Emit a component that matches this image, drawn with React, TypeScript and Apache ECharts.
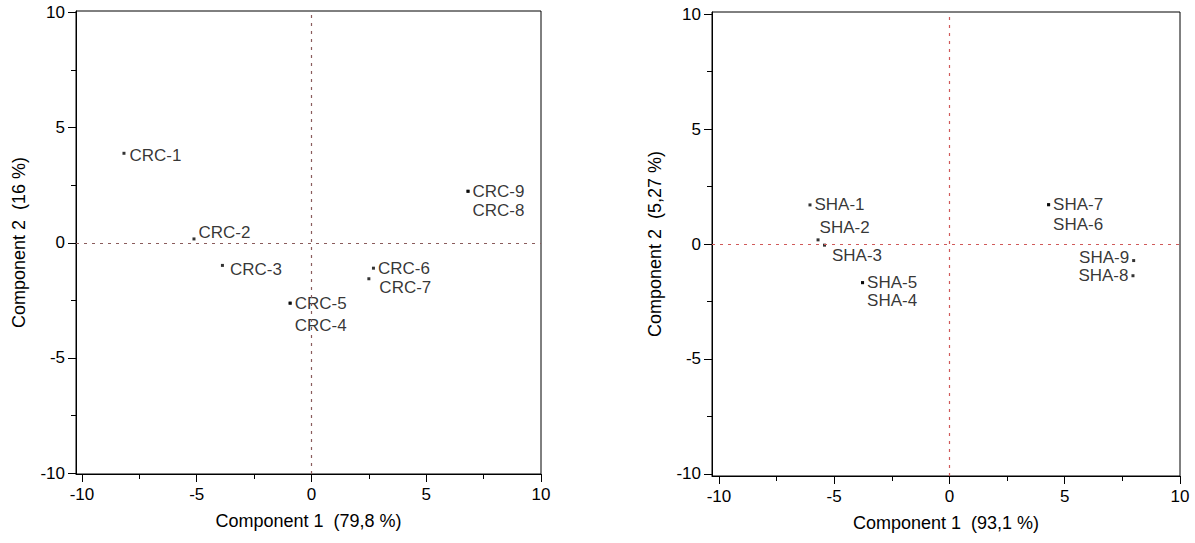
import React, { useEffect, useRef } from 'react';
import * as echarts from 'echarts';

// ---- Data ----
const crcNames = ['CRC-1', 'CRC-2', 'CRC-3', 'CRC-4', 'CRC-5', 'CRC-6', 'CRC-7', 'CRC-8', 'CRC-9'];
const crcX = [-8.17, -5.12, -3.88, -0.93, -0.93, 2.7, 2.5, 6.82, 6.82];
const crcY = [3.89, 0.17, -0.98, -2.62, -2.62, -1.1, -1.56, 2.24, 2.24];

const shaNames = ['SHA-1', 'SHA-2', 'SHA-3', 'SHA-4', 'SHA-5', 'SHA-6', 'SHA-7', 'SHA-8', 'SHA-9'];
const shaX = [-6.05, -5.7, -5.42, -3.77, -3.77, 4.3, 4.3, 7.96, 7.99];
const shaY = [1.7, 0.18, -0.05, -1.68, -1.68, 1.71, 1.71, -1.38, -0.72];

const majorTicks = [-10, -5, 0, 5, 10];
const minorTicks = [-7.5, -2.5, 2.5, 7.5];

const leftXName = 'Component 1  (79,8 %)';
const leftYName = 'Component 2  (16 %)';
const rightXName = 'Component 1  (93,1 %)';
const rightYName = 'Component 2  (5,27 %)';

// ---- Label placement (style, not data) ----
const labelPlacement: Record<string, { pos: string; off: number[] }> = {
  'CRC-1': { pos: 'right', off: [1, 2] },
  'CRC-2': { pos: 'right', off: [0, -6] },
  'CRC-3': { pos: 'right', off: [3, 4] },
  'CRC-4': { pos: 'right', off: [0, 22] },
  'CRC-5': { pos: 'right', off: [0, 0] },
  'CRC-6': { pos: 'right', off: [0, 0] },
  'CRC-7': { pos: 'right', off: [6, 9] },
  'CRC-8': { pos: 'right', off: [0, 19] },
  'CRC-9': { pos: 'right', off: [0, 0] },
  'SHA-1': { pos: 'right', off: [0, 0] },
  'SHA-2': { pos: 'right', off: [-3, -12] },
  'SHA-3': { pos: 'right', off: [3, 10] },
  'SHA-4': { pos: 'right', off: [0, 18] },
  'SHA-5': { pos: 'right', off: [0, 0] },
  'SHA-6': { pos: 'right', off: [0, 20] },
  'SHA-7': { pos: 'right', off: [0, 0] },
  'SHA-8': { pos: 'left', off: [0, 0] },
  'SHA-9': { pos: 'left', off: [0, -3] },
};

const FONT = 'Liberation Sans, Arial, sans-serif';
const TXT = '#000';

function buildPoints(names: string[], xs: number[], ys: number[]) {
  return names.map((n, i) => {
    const p = labelPlacement[n] || { pos: 'right', off: [0, 0] };
    return {
      name: n,
      value: [xs[i], ys[i]],
      label: { show: true, position: p.pos, offset: p.off, formatter: n },
    };
  });
}

function makeAxes(gridIndex: number, xMin: number, xMax: number, yMin: number, yMax: number, xName: string, yName: string) {
  const common = {
    type: 'value',
    gridIndex,
    splitLine: { show: false },
  };
  const xMain = {
    ...common,
    min: xMin,
    max: xMax,
    position: 'bottom',
    name: xName,
    nameLocation: 'middle',
    nameGap: 38,
    nameTextStyle: { fontSize: 18, color: TXT, fontFamily: FONT },
    axisLine: { show: true, onZero: false, lineStyle: { color: '#000', width: 1 } },
    axisTick: { show: true, customValues: majorTicks, length: 8, lineStyle: { color: '#000' } },
    axisLabel: { show: true, customValues: majorTicks, fontSize: 17, color: TXT, fontFamily: FONT, margin: 12 },
  };
  const xMinor = {
    ...common,
    min: xMin,
    max: xMax,
    position: 'bottom',
    axisLine: { show: false, onZero: false },
    axisTick: { show: true, customValues: minorTicks, length: 5, lineStyle: { color: '#000' } },
    axisLabel: { show: false },
  };
  const yMain = {
    ...common,
    min: yMin,
    max: yMax,
    position: 'left',
    name: yName,
    nameLocation: 'middle',
    nameGap: 48,
    nameTextStyle: { fontSize: 18, color: TXT, fontFamily: FONT },
    axisLine: { show: true, onZero: false, lineStyle: { color: '#000', width: 1 } },
    axisTick: { show: true, customValues: majorTicks, length: 8, lineStyle: { color: '#000' } },
    axisLabel: { show: true, customValues: majorTicks, fontSize: 17, color: TXT, fontFamily: FONT, margin: 11 },
  };
  const yMinor = {
    ...common,
    min: yMin,
    max: yMax,
    position: 'left',
    axisLine: { show: false, onZero: false },
    axisTick: { show: true, customValues: minorTicks, length: 5, lineStyle: { color: '#000' } },
    axisLabel: { show: false },
  };
  return { x: [xMain, xMinor], y: [yMain, yMinor] };
}

function makeSeries(
  name: string,
  data: any[],
  axisIndex: number,
  refColor: string,
  xMin: number,
  xMax: number,
  yMin: number,
  yMax: number
) {
  const ls = { color: refColor, type: [3, 5], width: 1.2 };
  return {
    type: 'scatter',
    name,
    xAxisIndex: axisIndex,
    yAxisIndex: axisIndex,
    symbol: 'rect',
    symbolSize: 3,
    itemStyle: { color: '#000' },
    label: { show: true, fontSize: 17, color: TXT, fontFamily: FONT, distance: 3 },
    data,
    markLine: {
      silent: true,
      symbol: ['none', 'none'],
      label: { show: false },
      data: [
        [
          { coord: [0, yMin], lineStyle: ls },
          { coord: [0, yMax] },
        ],
        [
          { coord: [xMin, 0], lineStyle: ls },
          { coord: [xMax, 0] },
        ],
      ],
    },
  };
}

export default function App() {
  const ref = useRef<HTMLDivElement>(null);
  useEffect(() => {
    if (!ref.current) return;
    const chart = echarts.init(ref.current, null, { renderer: 'svg' });
    const L = { xMin: -10.26, xMax: 10, yMin: -10.04, yMax: 10.07 };
    const R = { xMin: -10.3, xMax: 10, yMin: -10.09, yMax: 10.09 };
    const a0 = makeAxes(0, L.xMin, L.xMax, L.yMin, L.yMax, leftXName, leftYName);
    const a1 = makeAxes(1, R.xMin, R.xMax, R.yMin, R.yMax, rightXName, rightYName);
    chart.setOption({
      animation: false,
      backgroundColor: '#fff',
      textStyle: { fontFamily: FONT },
      grid: [
        { left: 76, top: 11, width: 465, height: 463, show: true, borderColor: '#000', borderWidth: 1, backgroundColor: 'transparent' },
        { left: 712, top: 12, width: 468, height: 464, show: true, borderColor: '#000', borderWidth: 1, backgroundColor: 'transparent' },
      ],
      xAxis: [...a0.x, ...a1.x],
      yAxis: [...a0.y, ...a1.y],
      series: [
        makeSeries('CRC', buildPoints(crcNames, crcX, crcY), 0, '#8a5c5c', L.xMin, L.xMax, L.yMin, L.yMax),
        makeSeries('SHA', buildPoints(shaNames, shaX, shaY), 2, '#d05a5a', R.xMin, R.xMax, R.yMin, R.yMax),
      ],
    });
    return () => chart.dispose();
  }, []);
  return (
    <div
      ref={ref}
      style={{ position: 'fixed', left: 0, top: 0, width: 1195, height: 543, background: '#fff' }}
    />
  );
}
